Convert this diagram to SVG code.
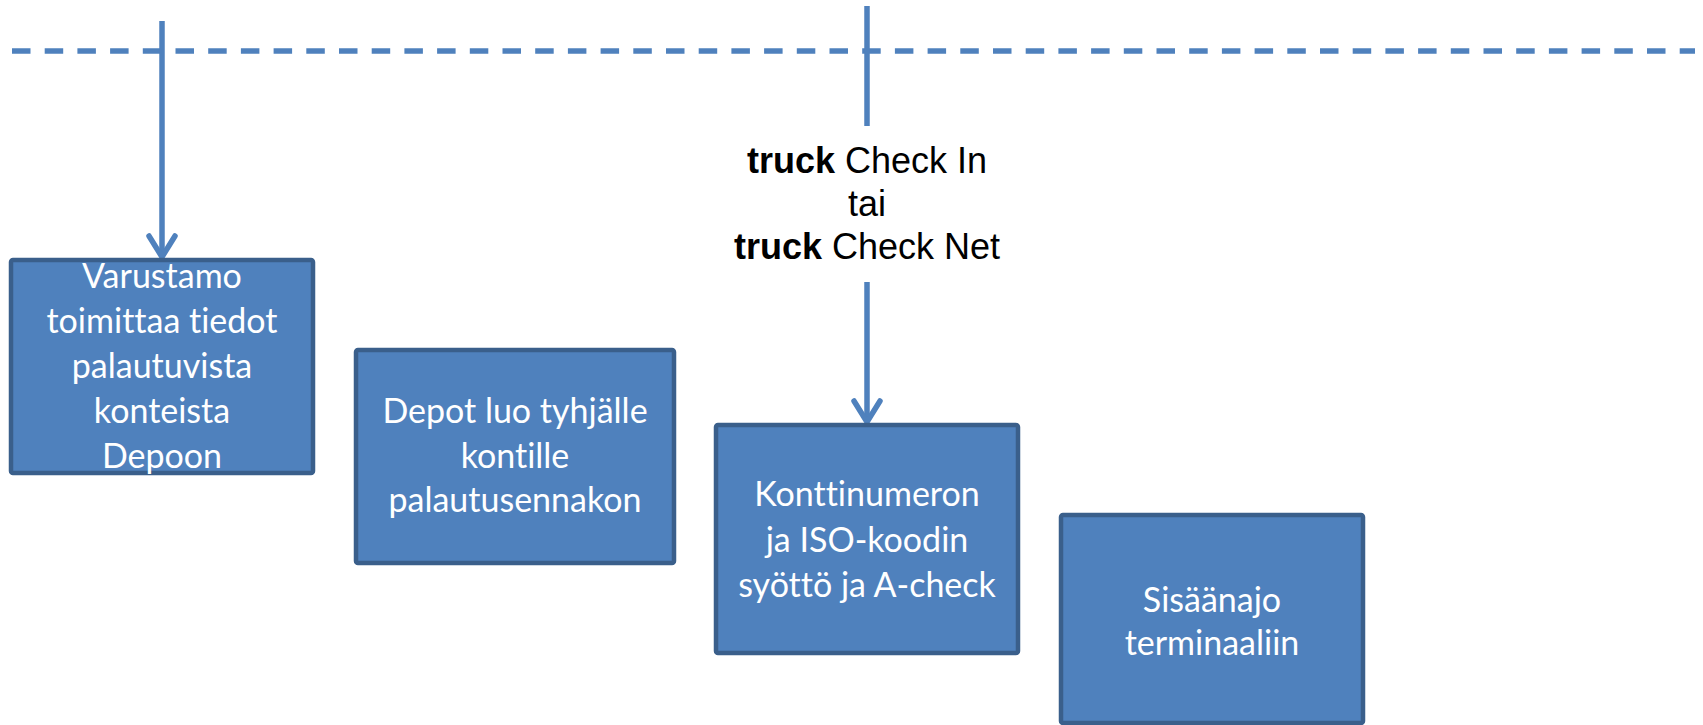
<svg xmlns="http://www.w3.org/2000/svg" width="1703" height="725" viewBox="0 0 1703 725">
<style>
.box{fill:#4F81BD;stroke:#3A5F8B;stroke-width:4.5}
.bt{font-family:Lato,"Open Sans","Liberation Sans",sans-serif;font-size:34px;fill:#FFFFFF;text-anchor:middle;font-variant-ligatures:none;font-feature-settings:"liga" 0}
.lbl{font-family:"Liberation Sans",Arial,sans-serif;font-size:36px;fill:#000000;text-anchor:middle}
.conn{stroke:#4F81BD;stroke-width:5.5;fill:none}
</style>
<defs>
<marker id="arr" markerUnits="userSpaceOnUse" markerWidth="34" markerHeight="30" refX="17" refY="26" orient="0" viewBox="0 0 34 30">
<path d="M4,5 L17,26 L30,5" fill="none" stroke="#4F81BD" stroke-width="5.5" stroke-linecap="round" stroke-linejoin="miter"/>
</marker>
</defs>
<g id="connectors">
<line class="conn" x1="12" y1="51" x2="1695" y2="51" stroke-width="5" stroke-dasharray="18.5 14.2"/>
<line class="conn" x1="162" y1="21" x2="162" y2="257" marker-end="url(#arr)"/>
<line class="conn" x1="867" y1="6" x2="867" y2="126"/>
<line class="conn" x1="867" y1="282" x2="867" y2="422" marker-end="url(#arr)"/>
</g>
<g id="label">
<text class="lbl" x="867" y="173"><tspan font-weight="bold">truck</tspan> Check In</text>
<text class="lbl" x="867" y="216">tai</text>
<text class="lbl" x="867" y="259"><tspan font-weight="bold">truck</tspan> Check Net</text>
</g>
<g id="node1">
<rect class="box" x="11" y="260" width="302" height="213" rx="2"/>
<text class="bt" x="162" y="288">Varustamo</text>
<text class="bt" x="162" y="333">toimittaa tiedot</text>
<text class="bt" x="162" y="378">palautuvista</text>
<text class="bt" x="162" y="423">konteista</text>
<text class="bt" x="162" y="468">Depoon</text>
</g>
<g id="node2">
<rect class="box" x="356" y="350" width="318" height="213" rx="2"/>
<text class="bt" x="515" y="423">Depot luo tyhjälle</text>
<text class="bt" x="515" y="468">kontille</text>
<text class="bt" x="515" y="512">palautusennakon</text>
</g>
<g id="node3">
<rect class="box" x="716" y="425" width="302" height="228" rx="2"/>
<text class="bt" x="867" y="506">Konttinumeron</text>
<text class="bt" x="867" y="552">ja ISO-koodin</text>
<text class="bt" x="867" y="597">syöttö ja A-check</text>
</g>
<g id="node4">
<rect class="box" x="1061" y="515" width="302" height="208" rx="2"/>
<text class="bt" x="1212" y="612">Sisäänajo</text>
<text class="bt" x="1212" y="655">terminaaliin</text>
</g>
</svg>
